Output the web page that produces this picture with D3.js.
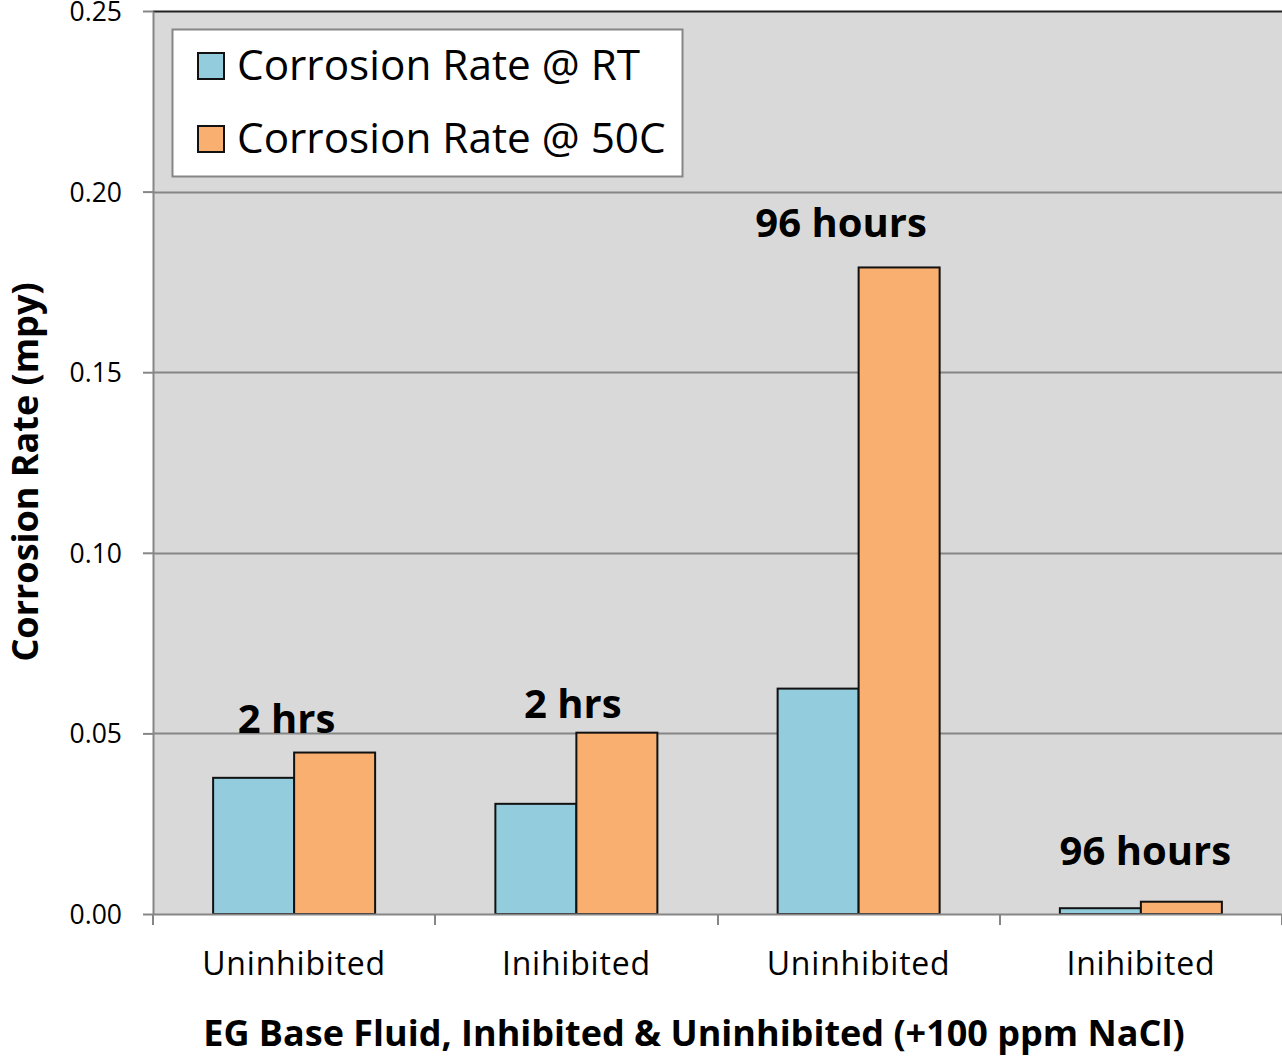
<!DOCTYPE html>
<html>
<head>
<meta charset="utf-8">
<script src="https://cdn.jsdelivr.net/npm/d3@7"></script>
<style>
  html, body { margin: 0; padding: 0; background: #ffffff; }
  svg text { font-family: "Open Sans", "Noto Sans", sans-serif; fill: #000; }
</style>
</head>
<body>
<svg id="chart" width="1282" height="1056"></svg>
<script>
// Chart data
const categories = ["Uninhibited", "Inihibited", "Uninhibited", "Inihibited"];
const seriesNames = ["Corrosion Rate @ RT", "Corrosion Rate @ 50C"];
const rateRT = [0.0377, 0.0305, 0.0624, 0.0016];
const rate50C = [0.0447, 0.0502, 0.179, 0.0034];
const groupNotes = ["2 hrs", "2 hrs", "96 hours", "96 hours"];
const noteValues = [0.0501, 0.0543, 0.1874, 0.0136];
const yTicks = [0, 0.05, 0.10, 0.15, 0.20, 0.25];
const colors = ["#93CDDD", "#F8AF70"];

// Layout
const svg = d3.select("#chart");
const m = { left: 153, right: 1282, top: 11, bottom: 914 };
const barWidth = 81;
const noteDx = [-7.5, -3.5, -17.5, 4.5];

const x = d3.scaleBand().domain(d3.range(categories.length)).range([m.left, m.right]);
const y = d3.scaleLinear().domain([0, 0.25]).range([m.bottom, m.top]);

// Plot area background
svg.append("rect")
  .attr("x", m.left).attr("y", m.top)
  .attr("width", m.right - m.left).attr("height", m.bottom - m.top)
  .attr("fill", "#D9D9D9");

// Horizontal gridlines
svg.append("g").selectAll("line").data(yTicks.slice(1, -1)).join("line")
  .attr("x1", m.left).attr("x2", m.right)
  .attr("y1", d => Math.round(y(d)) + 0.5).attr("y2", d => Math.round(y(d)) + 0.5)
  .attr("stroke", "#868686").attr("stroke-width", 2);

// Top border of plot area
svg.append("line")
  .attr("x1", m.left).attr("x2", m.right)
  .attr("y1", m.top + 0.5).attr("y2", m.top + 0.5)
  .attr("stroke", "#222").attr("stroke-width", 2);

// Bars
const series = [rateRT, rate50C];
const groups = svg.append("g").selectAll("g").data(categories).join("g")
  .attr("transform", (d, i) => `translate(${x(i)},0)`);
groups.selectAll("rect").data((d, i) => series.map((s, k) => ({ k, v: s[i] }))).join("rect")
  .attr("x", d => x.bandwidth() / 2 - barWidth + d.k * barWidth)
  .attr("y", d => y(d.v))
  .attr("width", barWidth)
  .attr("height", d => y(0) - y(d.v))
  .attr("fill", d => colors[d.k])
  .attr("stroke", "#111").attr("stroke-width", 2);

// Y axis
const yAxis = svg.append("g").attr("transform", `translate(${m.left},0)`)
  .call(d3.axisLeft(y).tickValues(yTicks).tickFormat(d3.format(".2f")).tickSize(10).tickSizeOuter(0));
yAxis.select(".domain").attr("stroke", "#868686").attr("stroke-width", 2);
yAxis.selectAll(".tick line").attr("stroke", "#868686").attr("stroke-width", 2);
yAxis.selectAll(".tick text")
  .attr("font-size", 26.5).attr("fill", "#000").attr("x", -31).attr("dy", "0.36em")
  .style("font-family", "'Open Sans', sans-serif");

// X axis (category boundaries)
const xAxisG = svg.append("g").attr("transform", `translate(0,${m.bottom})`);
xAxisG.append("line").attr("x1", m.left).attr("x2", m.right).attr("y1", 0.5).attr("y2", 0.5)
  .attr("stroke", "#868686").attr("stroke-width", 2);
xAxisG.selectAll(".bt").data(d3.range(categories.length + 1)).join("line")
  .attr("class", "bt")
  .attr("x1", i => Math.round(m.left + i * x.bandwidth())).attr("x2", i => Math.round(m.left + i * x.bandwidth()))
  .attr("y1", 0).attr("y2", 11)
  .attr("stroke", "#868686").attr("stroke-width", 2);
xAxisG.selectAll(".cl").data(categories).join("text")
  .attr("x", (d, i) => x(i) + x.bandwidth() / 2)
  .attr("y", 61)
  .attr("text-anchor", "middle").attr("font-size", 32).attr("letter-spacing", "0.8px")
  .text(d => d);

// Group annotations
svg.append("g").selectAll("text").data(groupNotes).join("text")
  .attr("x", (d, i) => x(i) + x.bandwidth() / 2 + noteDx[i])
  .attr("y", (d, i) => y(noteValues[i]))
  .attr("text-anchor", "middle").attr("font-size", 40).attr("font-weight", "bold")
  .text(d => d);

// Axis titles
svg.append("text")
  .attr("x", 694).attr("y", 1046)
  .attr("text-anchor", "middle").attr("font-size", 36).attr("font-weight", "bold")
  .text("EG Base Fluid, Inhibited & Uninhibited (+100 ppm NaCl)");
svg.append("text")
  .attr("transform", "translate(38,472) rotate(-90)")
  .attr("text-anchor", "middle").attr("font-size", 36).attr("font-weight", "bold")
  .text("Corrosion Rate (mpy)");

// Legend
const lg = svg.append("g");
lg.append("rect").attr("x", 172.5).attr("y", 29.5).attr("width", 510).attr("height", 147)
  .attr("fill", "#fff").attr("stroke", "#868686").attr("stroke-width", 2);
seriesNames.forEach((name, k) => {
  const cy = 66 + k * 73;
  lg.append("rect").attr("x", 198).attr("y", cy - 13).attr("width", 26).attr("height", 26)
    .attr("fill", colors[k]).attr("stroke", "#111").attr("stroke-width", 2);
  lg.append("text").attr("x", 237).attr("y", cy + 14).attr("font-size", 42.3)
    .text(name);
});
</script>
</body>
</html>
